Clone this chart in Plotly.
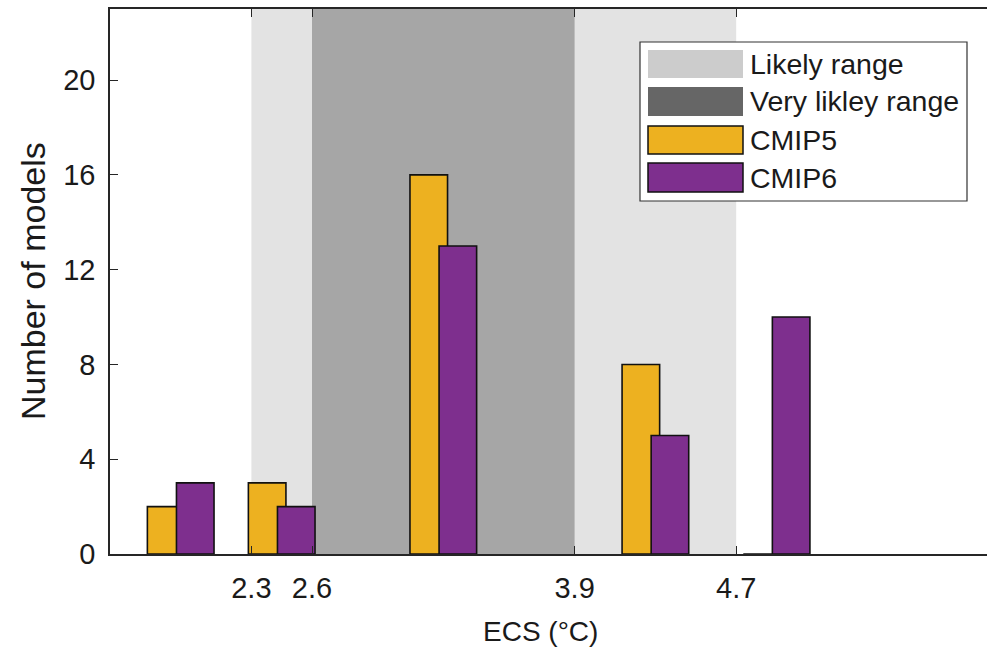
import plotly.graph_objects as go

# ---------------- data ----------------
group_centers = [1.95, 2.45, 3.25, 4.3, 4.9]
cmip5_counts = [2, 3, 16, 8, 0]
cmip6_counts = [3, 2, 13, 5, 10]
likely_range = [2.3, 4.7]
very_likely_range = [2.6, 3.9]
x_ticks = [2.3, 2.6, 3.9, 4.7]
x_tick_labels = ["2.3", "2.6", "3.9", "4.7"]
y_ticks = [0, 4, 8, 12, 16, 20]
y_tick_labels = ["0", "4", "8", "12", "16", "20"]
legend_names = ["Likely range", "Very likley range", "CMIP5", "CMIP6"]

# ---------------- style ----------------
W, H = 987, 651
ML, MR, MT, MB = 110, 0, 9, 97
FONT = "Liberation Sans, Arial, sans-serif"
TXT = "#1a1a1a"
AX = "#262626"
C5 = "#EDB120"
C6 = "#7E2F8E"
LIGHT = "#e3e3e3"
DARK = "#a6a6a6"
LEG_LIGHT = "#cccccc"
LEG_DARK = "#666666"
FS = 29

pw = W - ML - MR
ph = H - MT - MB


def px(x):
    return (x - ML) / pw


def py(y):
    return (H - MB - y) / ph


bar_w = 0.186
fig = go.Figure()
fig.add_trace(go.Bar(x=group_centers, y=cmip5_counts, name=legend_names[2],
                     width=bar_w, offset=-0.165,
                     marker=dict(color=C5, line=dict(color="#111111", width=1.6)),
                     showlegend=False))
fig.add_trace(go.Bar(x=group_centers, y=cmip6_counts, name=legend_names[3],
                     width=bar_w, offset=-0.021,
                     marker=dict(color=C6, line=dict(color="#111111", width=1.6)),
                     showlegend=False))

shapes = [
    dict(type="rect", xref="x", yref="paper", x0=likely_range[0], x1=likely_range[1],
         y0=0, y1=1, fillcolor=LIGHT, line=dict(width=0), layer="below"),
    dict(type="rect", xref="x", yref="paper", x0=very_likely_range[0], x1=very_likely_range[1],
         y0=0, y1=1, fillcolor=DARK, line=dict(width=0), layer="below"),
]

# manual legend
shapes.append(dict(type="rect", xref="paper", yref="paper",
                   x0=px(640), x1=px(967), y0=py(201), y1=py(42),
                   fillcolor="white", line=dict(color="#333333", width=1.2), layer="above"))
rows = [(50, 78), (87, 116), (126, 154), (163, 192)]
sw_fill = [LEG_LIGHT, LEG_DARK, C5, C6]
sw_line = [None, None, "#111111", "#111111"]
annotations = []
for (r0, r1), fc, lc, name in zip(rows, sw_fill, sw_line, legend_names):
    shapes.append(dict(type="rect", xref="paper", yref="paper",
                       x0=px(648), x1=px(743), y0=py(r1), y1=py(r0),
                       fillcolor=fc,
                       line=dict(color=lc, width=1.5) if lc else dict(width=0),
                       layer="above"))
    annotations.append(dict(xref="paper", yref="paper", x=px(748), y=py((r0 + r1) / 2),
                            text=name, showarrow=False, xanchor="left", yanchor="middle",
                            font=dict(family=FONT, size=28.5, color=TXT)))

# axis titles
annotations.append(dict(xref="paper", yref="paper", x=px(540), y=py(631),
                        text="ECS (°C)", showarrow=False, xanchor="center", yanchor="middle",
                        font=dict(family=FONT, size=28, color=TXT)))
annotations.append(dict(xref="paper", yref="paper", x=px(33), y=py(281),
                        text="Number of models", showarrow=False, textangle=-90,
                        xanchor="center", yanchor="middle",
                        font=dict(family=FONT, size=34, color=TXT)))

fig.update_layout(
    width=W, height=H,
    margin=dict(l=ML, r=MR, t=MT, b=MB, pad=0),
    paper_bgcolor="white", plot_bgcolor="white",
    barmode="overlay",
    shapes=shapes, annotations=annotations,
    showlegend=False,
    font=dict(family=FONT, size=FS, color=TXT),
)
fig.update_xaxes(range=[1.6, 1.6 + pw / 202.0], tickvals=x_ticks, ticktext=x_tick_labels,
                 ticks="inside", ticklen=8, tickwidth=1.2, tickcolor=AX,
                 showline=True, linecolor=AX, linewidth=1.5, mirror="ticks",
                 showgrid=False, zeroline=False,
                 tickfont=dict(family=FONT, size=FS, color=TXT), ticklabelstandoff=7)
fig.update_yaxes(range=[0, 23], tickvals=y_ticks, ticktext=y_tick_labels,
                 ticks="inside", ticklen=8, tickwidth=1.2, tickcolor=AX,
                 showline=True, linecolor=AX, linewidth=1.5,
                 showgrid=False, zeroline=False,
                 tickfont=dict(family=FONT, size=FS, color=TXT), ticklabelstandoff=7)

fig.write_html("out.html")
